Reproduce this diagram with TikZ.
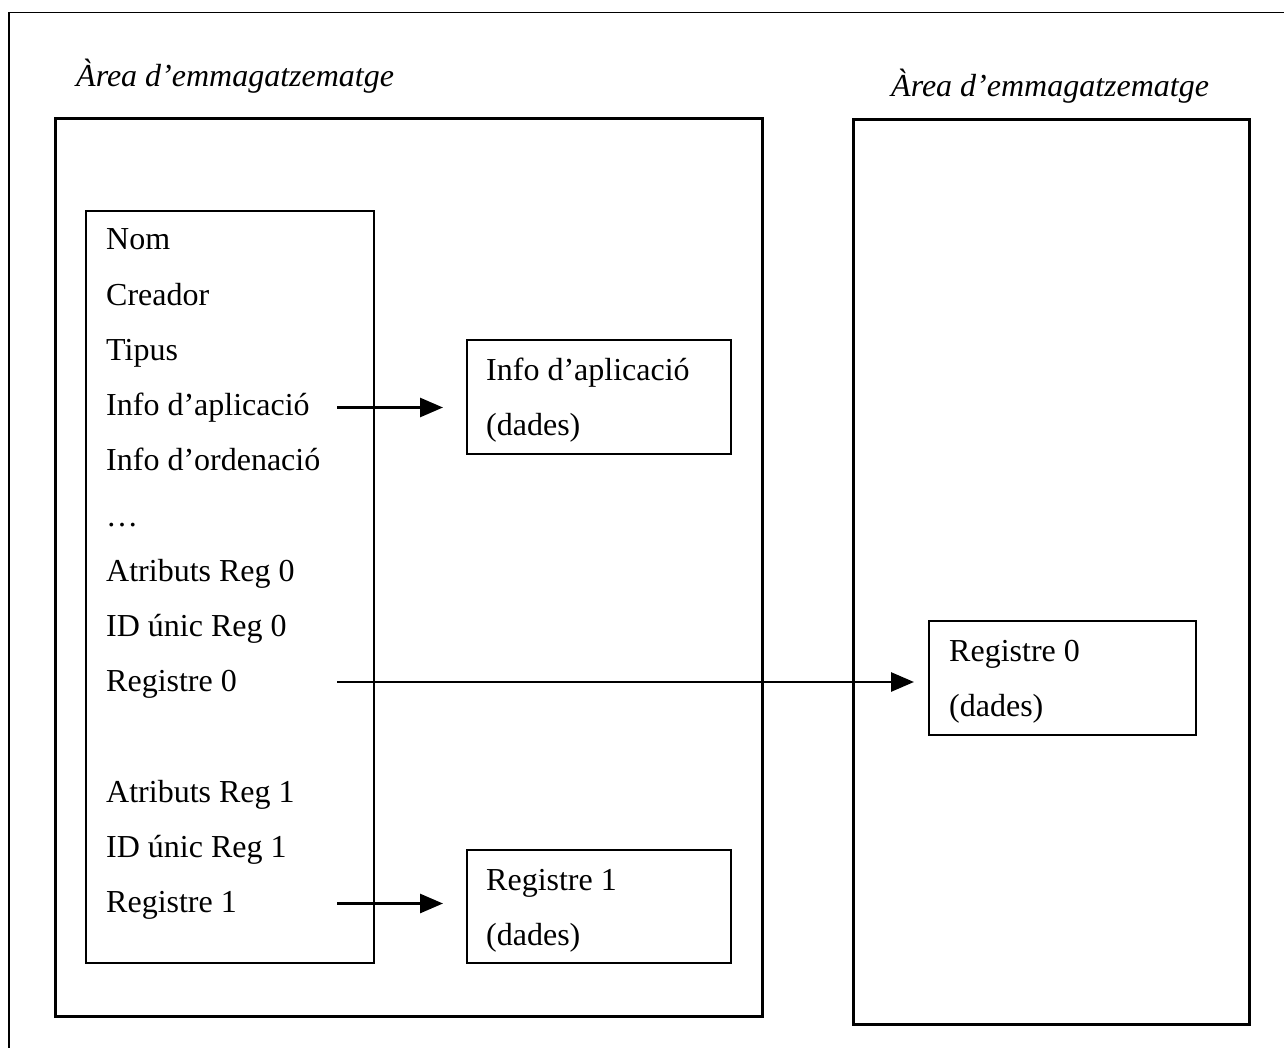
\documentclass[tikz,border=0pt]{standalone}
\usepackage{fontspec}
\setmainfont{Liberation Serif}
\usetikzlibrary{arrows.meta}
\begin{document}
\begin{tikzpicture}[x=1pt,y=-1pt,
  frameline/.style={line width=1.8pt},
  areabox/.style={draw, line width=3pt},
  recbox/.style={draw, line width=1.9pt},
  lbl/.style={anchor=base west, inner sep=0pt, font=\fontsize{32}{38}\selectfont},
  ttl/.style={lbl, font=\fontsize{32}{38}\selectfont\itshape},
  ptr/.style={line width=2.8pt, -{Triangle[length=23pt,width=19pt]}}]
\useasboundingbox (0,0) rectangle (1284,1048);
% page frame (open to the right and bottom)
\draw[frameline] (9,1048) -- (9,12.5) -- (1284,12.5);

% storage areas
\draw[areabox] (55,119) rectangle (762,1016);
\draw[areabox] (853,120) rectangle (1249,1024);
\node[ttl] (t1) at (76,87) {Àrea d’emmagatzematge};
\node[ttl] (t2) at (891,97) {Àrea d’emmagatzematge};

% header list
\draw[recbox] (86,211) rectangle (374,963);
\foreach \k/\txt/\nm in {0/Nom/nom, 1/Creador/cre, 2/Tipus/tip,
    3/Info d’aplicació/iap, 4/Info d’ordenació/iord, 5/…/dots,
    6/Atributs Reg 0/at0, 7/ID únic Reg 0/id0, 8/Registre 0/r0,
    10/Atributs Reg 1/at1, 11/ID únic Reg 1/id1, 12/Registre 1/r1}
  \node[lbl] (\nm) at (106,250+55.2*\k) {\txt};

% data blocks
\draw[recbox] (467,340) rectangle (731,454);
\node[lbl] (bi1) at (486,380) {Info d’aplicació};
\node[lbl] (bi2) at (486,435) {(dades)};
\draw[recbox] (929,621) rectangle (1196,735);
\node[lbl] (br1) at (949,661) {Registre 0};
\node[lbl] (br2) at (949,716) {(dades)};
\draw[recbox] (467,850) rectangle (731,963);
\node[lbl] (bs1) at (486,890) {Registre 1};
\node[lbl] (bs2) at (486,945) {(dades)};

% pointers
\coordinate (p1s) at (337,407.5);
\coordinate (p1e) at (443,407.5);
\coordinate (p2s) at (337,682);
\coordinate (p2e) at (914,682);
\coordinate (p3s) at (337,903.5);
\coordinate (p3e) at (443,903.5);
\draw[ptr] (p1s) -- (p1e);
\draw[ptr] (p2s) -- (p2e);
\draw[ptr] (p3s) -- (p3e);
\end{tikzpicture}
\end{document}
